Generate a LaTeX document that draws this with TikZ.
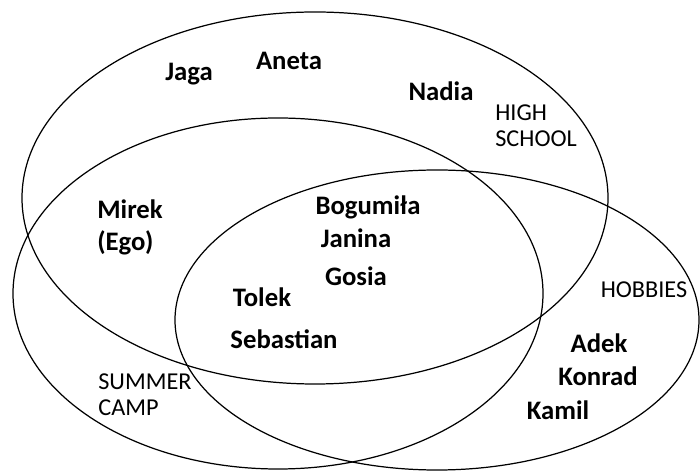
\documentclass[tikz,border=0pt]{standalone}
\usepackage{fontspec}
\setmainfont{Carlito}
\tikzset{
  setline/.style={line width=0.7pt},
  member/.style={font=\fontsize{15.2}{18.7}\selectfont\bfseries, inner sep=0pt, anchor=base},
  grouplabel/.style={font=\fontsize{13.8}{15}\selectfont, inner sep=0pt, align=left, anchor=base west}
}
\begin{document}
\begin{tikzpicture}
	\useasboundingbox (0,0) rectangle (14,9.44);

	% the three groups
	\draw[setline] (6.30,5.48) ellipse [x radius=5.86, y radius=3.72];
	\draw[setline] (5.56,3.57) ellipse [x radius=5.30, y radius=3.51];
	\draw[setline] (8.74,3.04) ellipse [x radius=5.24, y radius=3.00];

	% group names (base = last line)
	\node[grouplabel] (highschool) at (9.90,6.50) {HIGH\\SCHOOL};
	\node[grouplabel] (summercamp) at (1.96,1.12) {SUMMER\\CAMP};
	\node[grouplabel, anchor=base] (hobbies) at (12.88,3.48) {HOBBIES};

	% people
	\node[member] (jaga) at (3.78,7.82) {Jaga};
	\node[member] (aneta) at (5.78,8.04) {Aneta};
	\node[member] (nadia) at (8.82,7.42) {Nadia};
	\node[member, align=left, anchor=base west] (mirek) at (1.94,4.42) {Mirek\\(Ego)};
	\node[member] (bogumila) at (7.36,5.14) {Bogumiła};
	\node[member] (janina) at (7.12,4.48) {Janina};
	\node[member] (gosia) at (7.12,3.72) {Gosia};
	\node[member] (tolek) at (5.24,3.30) {Tolek};
	\node[member] (sebastian) at (5.68,2.46) {Sebastian};
	\node[member] (adek) at (11.98,2.38) {Adek};
	\node[member] (konrad) at (11.96,1.72) {Konrad};
	\node[member] (kamil) at (11.16,1.04) {Kamil};
\end{tikzpicture}
\end{document}
